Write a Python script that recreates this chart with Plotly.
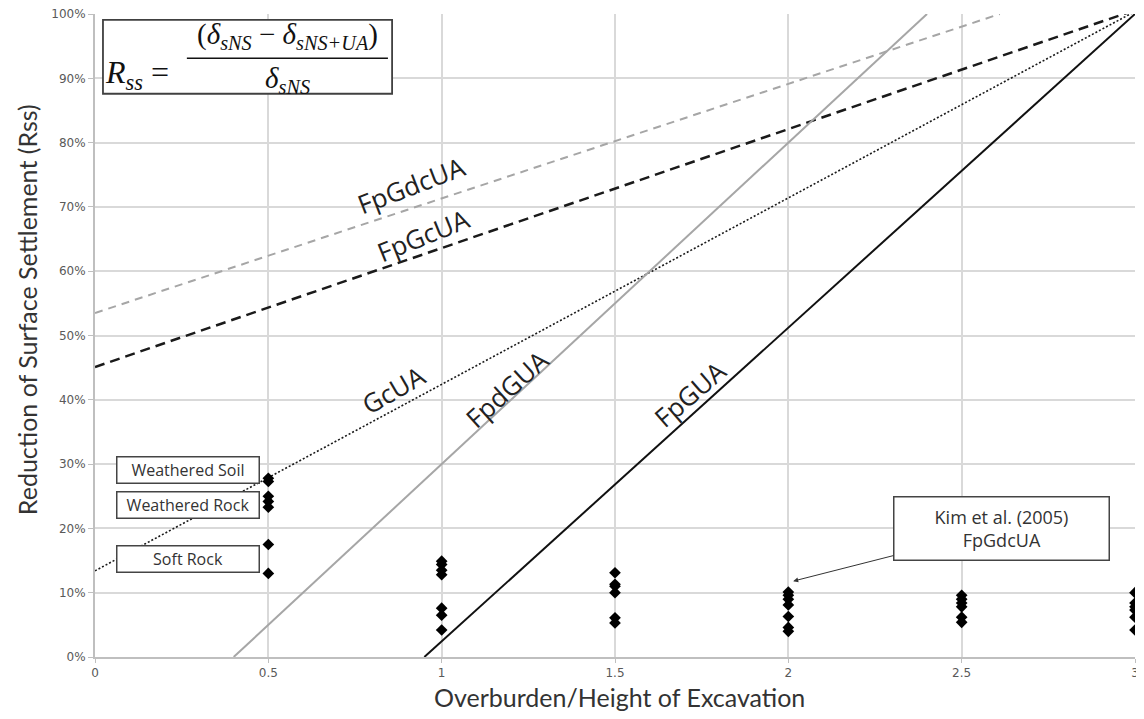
import plotly.graph_objects as go

# ---------------- data ----------------
# measured points (Kim et al. 2005, FpGdcUA)
pts_x05 = [27.8, 27.3, 25.0, 24.2, 23.3, 17.5, 13.0]
pts_x10 = [14.9, 14.4, 13.5, 12.8, 7.6, 6.5, 4.2]
pts_x15 = [13.1, 11.3, 11.0, 10.0, 6.1, 5.3]
pts_x20 = [10.1, 9.6, 9.0, 8.1, 6.3, 4.6, 4.0]
pts_x25 = [9.6, 9.0, 8.4, 7.8, 6.2, 5.4]
pts_x30 = [10.0, 8.4, 7.8, 7.3, 6.2, 4.2]
pt_groups = [(0.5, pts_x05), (1.0, pts_x10), (1.5, pts_x15),
             (2.0, pts_x20), (2.5, pts_x25), (3.0, pts_x30)]

# design lines (overburden ratio, Rss %)
fpgdcua_x = [0, 2.61]
fpgdcua_y = [53.5, 100]
fpgcua_x = [0, 3]
fpgcua_y = [45.1, 100.6]
gcua_x = [0, 3]
gcua_y = [13.4, 100.4]
fpdgua_x = [0.40, 2.40]
fpdgua_y = [0, 100]
fpgua_x = [0.95, 3.0]
fpgua_y = [0, 100]

x_ticks = [0, 0.5, 1, 1.5, 2, 2.5, 3]
x_tick_text = ["0", "0.5", "1", "1.5", "2", "2.5", "3"]
y_ticks = [0, 10, 20, 30, 40, 50, 60, 70, 80, 90, 100]
y_tick_text = ["0%", "10%", "20%", "30%", "40%", "50%", "60%", "70%", "80%", "90%", "100%"]

# ---------------- figure ----------------
fig = go.Figure()

fig.add_trace(go.Scatter(x=fpgdcua_x, y=fpgdcua_y, mode="lines",
                         line=dict(color="#a6a6a6", width=2, dash="8px,6px"), showlegend=False))
fig.add_trace(go.Scatter(x=fpgcua_x, y=fpgcua_y, mode="lines",
                         line=dict(color="#1a1a1a", width=2.5, dash="10px,6px"), showlegend=False))
fig.add_trace(go.Scatter(x=gcua_x, y=gcua_y, mode="lines",
                         line=dict(color="#1a1a1a", width=1.6, dash="2px,2px"), showlegend=False))
fig.add_trace(go.Scatter(x=fpdgua_x, y=fpdgua_y, mode="lines",
                         line=dict(color="#a6a6a6", width=2), showlegend=False))
fig.add_trace(go.Scatter(x=fpgua_x, y=fpgua_y, mode="lines",
                         line=dict(color="#111111", width=2), showlegend=False))

px_all, py_all = [], []
for xv, ys in pt_groups:
    px_all += [xv] * len(ys)
    py_all += ys
fig.add_trace(go.Scatter(x=px_all, y=py_all, mode="markers",
                         marker=dict(symbol="diamond", size=9, color="#000000"),
                         showlegend=False))

label_font = dict(family="Open Sans", size=26, color="#222222")
line_labels = [
    ("FpGdcUA", 0.914, 73.4, -21),
    ("FpGcUA", 0.949, 65.6, -22),
    ("GcUA", 0.860, 41.5, -30),
    ("FpdGUA", 1.188, 41.7, -42),
    ("FpGUA", 1.716, 40.9, -41),
]
annotations = []
for txt, xx, yy, ang in line_labels:
    annotations.append(dict(x=xx, y=yy, xref="x", yref="y", text=txt, showarrow=False,
                            textangle=ang, font=label_font))

# rock-type boxes
box_font = dict(family="Open Sans", size=16, color="#333333")
for txt, yy in [("Weathered Soil", 29.1), ("Weathered Rock", 23.7), ("Soft Rock", 15.2)]:
    annotations.append(dict(x=0.268, y=yy, xref="x", yref="y", text=txt, showarrow=False,
                            font=box_font, bgcolor="white", bordercolor="#444444",
                            borderwidth=1.5, borderpad=1, width=139, height=23))

# Kim et al. callout
annotations.append(dict(x=2.014, y=11.8, xref="x", yref="y",
                        text="Kim et al. (2005)<br>FpGdcUA", showarrow=True,
                        ax=208, ay=-53, arrowhead=2, arrowsize=1, arrowwidth=1,
                        arrowcolor="#333333", font=dict(family="Open Sans", size=18, color="#333333"),
                        bgcolor="white", bordercolor="#444444", borderwidth=1.5,
                        width=212, height=60, borderpad=1))

# formula
ff = dict(family="Liberation Serif", size=29, color="#111111")
annotations.append(dict(x=0.121, y=90.6, xref="x", yref="y",
                        text="<i>R</i><sub><i>ss</i></sub> =", showarrow=False,
                        font=dict(family="Liberation Serif", size=32, color="#111111")))
annotations.append(dict(x=0.554, y=96.6, xref="x", yref="y",
                        text="(<i>δ</i><sub><i>sNS</i></sub> − <i>δ</i><sub><i>sNS+UA</i></sub>)",
                        showarrow=False, font=ff))
annotations.append(dict(x=0.554, y=89.7, xref="x", yref="y",
                        text="<i>δ</i><sub><i>sNS</i></sub>", showarrow=False, font=ff))

# axis titles
annotations.append(dict(x=-0.066, y=0.54, xref="paper", yref="paper",
                        xanchor="center", yanchor="middle",
                        text="Reduction of Surface Settlement (Rss)", textangle=-90,
                        showarrow=False, font=dict(family="Lato", size=25, color="#333333")))
annotations.append(dict(x=0.504, y=-0.0622, xref="paper", yref="paper",
                        xanchor="center", yanchor="middle",
                        text="Overburden/Height of Excavation", showarrow=False,
                        font=dict(family="Lato", size=25, color="#333333")))

shapes = [
    dict(type="rect", xref="x", yref="y", x0=0.023, x1=0.857, y0=87.6, y1=99.1,
         line=dict(color="#404040", width=1.8), fillcolor="white", layer="above"),
    dict(type="line", xref="x", yref="y", x0=0.265, x1=0.845, y0=93.1, y1=93.1,
         line=dict(color="#111111", width=1.5)),
]

# page has an 8px body margin: plot area placed so it lands on the reference pixels
fig.update_layout(
    width=1128, height=706,
    margin=dict(l=87, r=1, t=6, b=57),
    paper_bgcolor="white", plot_bgcolor="white",
    annotations=annotations, shapes=shapes,
    showlegend=False,
)
fig.update_xaxes(range=[0, 3], tickvals=x_ticks, ticktext=x_tick_text,
                 showgrid=True, gridcolor="#d9d9d9", gridwidth=2,
                 showline=True, linecolor="#bfbfbf", linewidth=2,
                 ticks="outside", ticklen=4, tickcolor="#bfbfbf",
                 tickfont=dict(family="DejaVu Sans", size=12, color="#595959"),
                 ticklabeloverflow="allow",
                 zeroline=False, automargin=False)
fig.update_yaxes(range=[0, 100], tickvals=y_ticks, ticktext=y_tick_text,
                 showgrid=True, gridcolor="#d9d9d9", gridwidth=2,
                 showline=True, linecolor="#bfbfbf", linewidth=2,
                 ticks="outside", ticklen=5, tickcolor="#bfbfbf",
                 tickfont=dict(family="DejaVu Sans", size=12, color="#595959"),
                 ticklabeloverflow="allow",
                 zeroline=False, automargin=False)

fig.write_html("out.html")
